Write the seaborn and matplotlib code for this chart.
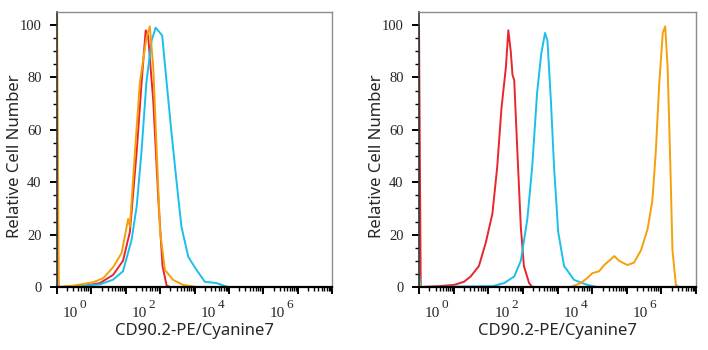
import pandas as pd
import matplotlib.pyplot as plt
import seaborn as sns

# log10 of fluorescence intensity, and relative cell number
# left panel
left_red_log = [0.0, 0.04, 0.58, 1.25, 1.63, 1.92, 2.12, 2.32, 2.46, 2.58, 2.65, 2.8, 2.95, 3.07, 3.19, 3.3, 8.0]
left_red_val = [60, 0, 0, 1.5, 4.6, 10, 21, 52, 78, 98, 96, 71, 33, 8, 0.5, 0, 0]
left_orange_log = [0.0, 0.05, 0.47, 1.05, 1.35, 1.64, 1.88, 2.07, 2.12, 2.27, 2.41, 2.6, 2.7, 2.8, 2.9, 3.0, 3.14, 3.38, 3.67, 4.06, 8.0]
left_orange_val = [110, 0, 0.5, 1.8, 3.4, 7.7, 13, 26, 23, 52, 78, 95, 99.5, 84, 52, 21, 6.5, 2.7, 0.8, 0, 0]
left_cyan_log = [0.0, 0.04, 0.67, 1.25, 1.63, 1.92, 2.17, 2.32, 2.46, 2.6, 2.75, 2.87, 3.0, 3.06, 3.19, 3.33, 3.48, 3.62, 3.82, 4.06, 4.3, 4.64, 4.97, 8.0]
left_cyan_val = [3, 0, 0.3, 1, 2.8, 6, 18, 31, 52, 78, 94, 99, 97, 96, 78, 59, 40, 23, 11.5, 6.5, 2, 1.5, 0, 0]

# right panel
right_red_log = [0.0, 0.05, 0.53, 1.01, 1.3, 1.49, 1.73, 1.93, 2.12, 2.26, 2.38, 2.51, 2.58, 2.65, 2.7, 2.75, 2.84, 2.94, 3.03, 3.18, 3.27, 8.0]
right_red_val = [100, 0, 0.3, 0.8, 2, 4, 8, 17, 28, 46, 68, 84, 98, 90, 81, 79, 52, 23, 8, 1.5, 0, 0]
right_cyan_log = [0.0, 0.05, 2.12, 2.46, 2.75, 2.94, 3.13, 3.27, 3.41, 3.53, 3.64, 3.71, 3.81, 3.9, 4.02, 4.19, 4.48, 4.86, 5.14, 8.0]
right_cyan_val = [5, 0, 0.3, 1.5, 4, 10, 26, 46, 74, 89, 97, 94, 71, 46, 21, 8, 2.7, 0.8, 0, 0]
right_orange_log = [0.0, 0.05, 4.38, 4.67, 4.86, 5.01, 5.2, 5.35, 5.49, 5.64, 5.78, 5.88, 6.02, 6.21, 6.41, 6.6, 6.74, 6.84, 6.94, 7.04, 7.11, 7.18, 7.26, 7.32, 7.42, 7.5, 8.0]
right_orange_val = [2, 0, 0, 1.5, 3.4, 5.3, 6, 8.4, 10, 11.8, 10, 9.3, 8.4, 9.3, 14, 22, 33, 52, 78, 97, 99.5, 84, 46, 14, 0.8, 0, 0]

colors = {'red': '#e8262d', 'cyan': '#1bbfec', 'orange': '#f5a00a'}
exp_labels = [0, 2, 4, 6]


def make_df(red, cyan, orange):
    rows = []
    for name, (xs, ys) in [('red', red), ('cyan', cyan), ('orange', orange)]:
        for x, y in zip(xs, ys):
            rows.append({'x': 10 ** x, 'y': y, 'sample': name})
    return pd.DataFrame(rows)


panels = [
    make_df((left_red_log, left_red_val), (left_cyan_log, left_cyan_val), (left_orange_log, left_orange_val)),
    make_df((right_red_log, right_red_val), (right_cyan_log, right_cyan_val), (right_orange_log, right_orange_val)),
]

sns.set_style("white")
plt.rcParams['font.family'] = ['Noto Sans', 'DejaVu Sans']

fig = plt.figure(figsize=(7.08, 3.5), dpi=100)
axes = [fig.add_axes([57 / 708, 63 / 350, 275 / 708, 275 / 350]),
        fig.add_axes([419 / 708, 63 / 350, 277 / 708, 275 / 350])]

for ax, df in zip(axes, panels):
    sns.lineplot(data=df, x='x', y='y', hue='sample', palette=colors, sort=False,
                 estimator=None, linewidth=1.4, legend=False, ax=ax)
    ax.set_xscale('log')
    ax.set_xlim(1, 1e8)
    ax.set_ylim(0, 105)

    ax.set_xticks([10 ** k for k in range(9)])
    ax.set_xticklabels([])
    ax.set_xticks([m * 10 ** k for k in range(8) for m in range(2, 10)], minor=True)
    ax.set_yticks([0, 20, 40, 60, 80, 100])
    ax.set_yticks(range(0, 105, 5), minor=True)
    ax.tick_params(axis='x', which='major', length=5, width=1.4, direction='out', color='black', bottom=True)
    ax.tick_params(axis='x', which='minor', length=3, width=1.0, direction='out', color='black', bottom=True)
    ax.tick_params(axis='y', which='major', length=5, width=1.4, direction='out', color='black', left=True, pad=6)
    ax.tick_params(axis='y', which='minor', length=3, width=1.0, direction='out', color='black', left=True)
    for lab in ax.get_yticklabels():
        lab.set_family('Liberation Serif')
        lab.set_fontsize(10.5)

    for k in exp_labels:
        ax.annotate('10', xy=(10 ** k, 0), xycoords=('data', 'axes fraction'), xytext=(4.3, -21.6),
                    textcoords='offset points', ha='left', va='baseline', fontsize=11,
                    family='Liberation Serif', annotation_clip=False)
        ax.annotate(str(k), xy=(10 ** k, 0), xycoords=('data', 'axes fraction'), xytext=(16.5, -15),
                    textcoords='offset points', ha='left', va='baseline', fontsize=9.5,
                    family='Liberation Serif', annotation_clip=False)

    ax.set_xlabel('CD90.2-PE/Cyanine7', fontsize=12)
    ax.xaxis.set_label_coords(0.5, -44 / 275)
    ax.xaxis.label.set_va('center')
    ax.set_ylabel('Relative Cell Number', fontsize=12)
    ax.yaxis.set_label_coords(-42 / 275, 0.476)
    ax.yaxis.label.set_va('center')

    for side in ['top', 'right']:
        ax.spines[side].set_color('#8c8c8c')
        ax.spines[side].set_linewidth(1.0)
    ax.spines['left'].set_color('#333333')
    ax.spines['left'].set_linewidth(1.2)
    ax.spines['bottom'].set_color('black')
    ax.spines['bottom'].set_linewidth(1.6)

fig.savefig('out.png', dpi=100)
plt.close()
